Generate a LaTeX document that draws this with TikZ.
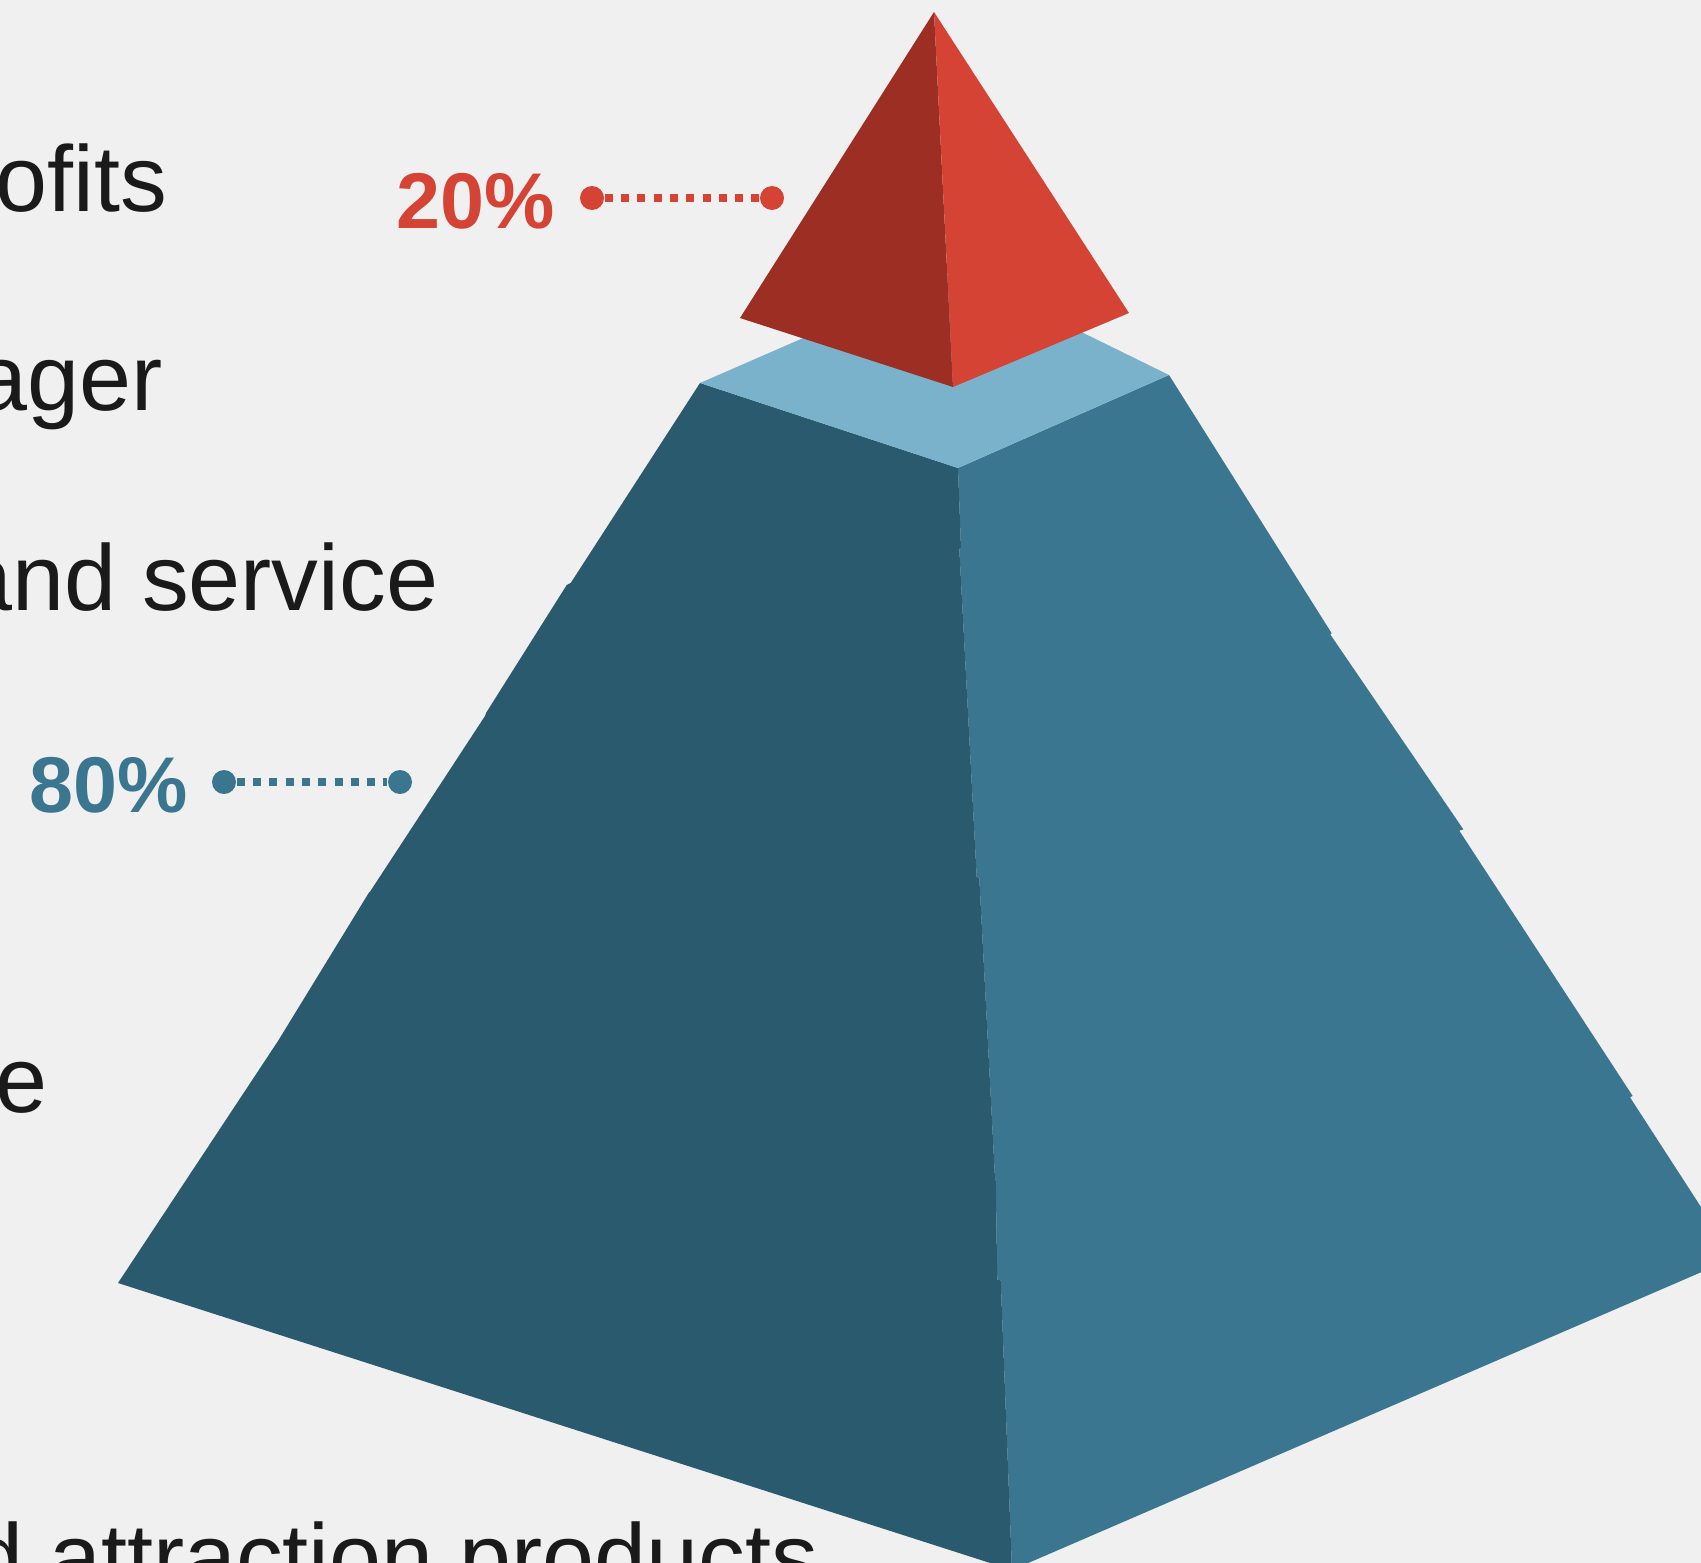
\documentclass[tikz,border=0pt]{standalone}
\usepackage{fontspec}
\setmainfont{Liberation Sans}
\usepackage{tikz}
\definecolor{bg}{HTML}{F0F0F0}
\definecolor{faceL}{HTML}{2A5A6E}
\definecolor{faceR}{HTML}{3A7690}
\definecolor{faceT}{HTML}{7AB2CC}
\definecolor{redL}{HTML}{9C2E23}
\definecolor{redR}{HTML}{D44334}
\definecolor{ink}{HTML}{1A1A1A}

\begin{document}
\begin{tikzpicture}[x=0.1mm, y=-0.1mm,
  lbl/.style={anchor=base east, inner sep=0pt, text=ink, font=\fontsize{26.6}{32}\selectfont},
  pct/.style={anchor=base west, inner sep=0pt, font=\fontsize{22.5}{27}\selectfont\bfseries},
  dot/.style={circle, fill, inner sep=0pt, minimum size=2.4mm},
  dots/.style={line width=0.8mm, dash pattern=on 0.8mm off 0.83mm}]
\useasboundingbox (0,0) rectangle (1701,1563);
\fill[bg] (0,0) rectangle (1701,1563);
\clip (0,0) rectangle (1701,1563);
% big pyramid, right face then left face
\fill[faceR] (958,468) -- (1169,375) -- (1331.7,633.3) -- (1330.3,634.5) -- (1463.3,829.3) -- (1459.3,830.7) -- (1632.7,1096) -- (1630,1097.3) -- (1734,1258) -- (1012,1570) -- (1000.7,1280) -- (997.3,1280) -- (995.7,1178) -- (995,1178) -- (979.3,878) -- (976.7,877) -- (959.3,549) -- (961,548) -- cycle;
\fill[faceL] (700,383) -- (570.7,583) -- (566.7,585) -- (486,713) -- (485,716) -- (370,891.7) -- (368.7,893) -- (278,1041) -- (118,1283) -- (1012,1570) -- (1000.7,1280) -- (997.3,1280) -- (995.7,1178) -- (995,1178) -- (979.3,878) -- (976.7,877) -- (959.3,549) -- (961,548) -- (958,468) -- cycle;
\fill[faceT] (700,383) -- (958,468) -- (1169,375) -- (957,271) -- cycle;
% small pyramid on top
\fill[redL] (934,12) -- (740,318) -- (953,387) -- cycle;
\fill[redR] (934,12) -- (953,387) -- (1129,313) -- cycle;
% labels
\node[lbl] (lbl1) at (168,211.7) {ofits};
\node[lbl] (lbl2) at (163,410) {ager};
\node[lbl] (lbl3) at (439,610.5) {and service};
\node[lbl] (lbl4) at (48,1112.7) {e};
\node[lbl] (lbl5) at (819,1589) {d attraction products};
% percentages
\node[pct, text=redR] (p20) at (396,228) {20\%};
\node[dot, redR] (p20a) at (592,198) {};
\node[dot, redR] (p20b) at (772,198) {};
\draw[dots, redR] (p20a) -- (p20b);
\node[pct, text=faceR] (p80) at (28.5,812) {80\%};
\node[dot, faceR] (p80a) at (224,782) {};
\node[dot, faceR] (p80b) at (400,782) {};
\draw[dots, faceR] (p80a) -- (p80b);
\end{tikzpicture}
\end{document}
